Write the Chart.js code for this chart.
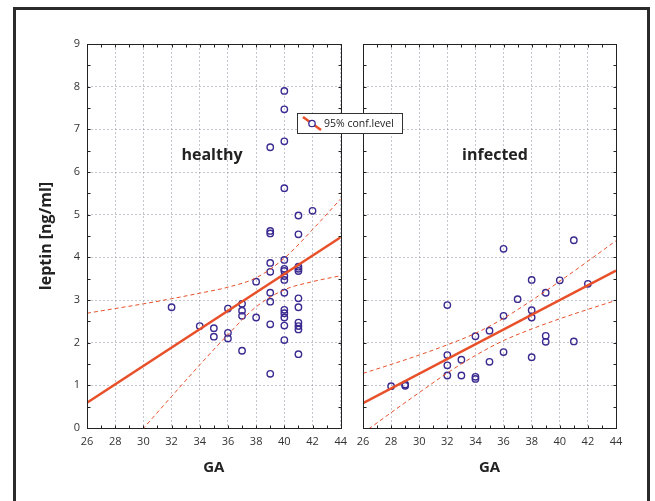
<!DOCTYPE html>
<html>
<head>
<meta charset="utf-8">
<script src="https://cdn.jsdelivr.net/npm/chart.js@4.4.0/dist/chart.umd.min.js"></script>
<style>
    body { margin: 0; background: #fff; }
    #page { position: relative; width: 655px; height: 501px; overflow: hidden; font-family: "Open Sans", sans-serif; }
    #frame { position: absolute; left: 13px; top: 7px; width: 631px; height: 510px; border: 3px solid #2b2b2b; }
    .box { position: absolute; top: 0; height: 501px; }
    #left-box { left: 0; width: 354px; }
    #right-box { left: 345px; width: 310px; }
    .panel-label { position: absolute; font-weight: bold; font-size: 16px; color: #222; transform: translate(-50%, -50%); white-space: nowrap; }
    #legend { position: absolute; left: 297px; top: 113px; width: 104px; height: 19px; border: 1px solid #333; background: #fff; }
    #legend svg { position: absolute; left: 3px; top: 0; }
    #legend span { position: absolute; left: 26px; top: 0; line-height: 19px; font-size: 10.5px; color: #222; white-space: nowrap; }
</style>
</head>
<body>
<div id="page">
    <div id="frame"></div>
    <div class="box" id="left-box"><canvas id="healthy-chart"></canvas></div>
    <div class="box" id="right-box"><canvas id="infected-chart"></canvas></div>
    <div class="panel-label" style="left:212px; top:154px;">healthy</div>
    <div class="panel-label" style="left:495px; top:154px;">infected</div>
    <div id="legend">
        <svg width="22" height="19">
            <line x1="2" y1="3" x2="20" y2="16" stroke="#e8502a" stroke-width="2.5"/>
            <circle cx="11" cy="9.5" r="3.2" fill="#fff" stroke="#3b2a90" stroke-width="1.3"/>
        </svg>
        <span>95% conf.level</span>
    </div>
</div>
<script>
// healthy group
const healthyGA = [32, 34, 35, 35, 36, 36, 36, 37, 37, 37, 37, 38, 38,
    39, 39, 39, 39, 39, 39, 39, 39, 39,
    40, 40, 40, 40, 40, 40, 40, 40, 40, 40, 40, 40, 40, 40, 40,
    41, 41, 41, 41, 41, 41, 41, 41, 41, 41, 41, 42]
const healthyLeptin = [2.83, 2.39, 2.34, 2.14, 2.80, 2.23, 2.10, 2.91, 2.75, 2.63, 1.81, 3.43, 2.59,
    6.58, 4.62, 4.56, 3.87, 3.66, 3.17, 2.96, 2.43, 1.27,
    7.90, 7.47, 6.72, 5.62, 3.94, 3.73, 3.68, 3.56, 3.47, 3.17, 2.77, 2.69, 2.59, 2.40, 2.06,
    4.98, 4.54, 3.78, 3.73, 3.68, 3.04, 2.83, 2.47, 2.39, 2.31, 1.73, 5.09]

// infected group
const infectedGA = [28, 29, 29, 32, 32, 32, 32, 33, 33, 34, 34, 34, 35, 35,
    36, 36, 36, 37, 38, 38, 38, 38, 39, 39, 39, 40, 41, 41, 42]
const infectedLeptin = [0.98, 1.02, 0.99, 2.88, 1.71, 1.47, 1.23, 1.60, 1.23, 2.15, 1.20, 1.15, 2.28, 1.55,
    4.20, 2.63, 1.78, 3.02, 3.47, 2.76, 2.59, 1.66, 3.17, 2.16, 2.02, 3.46, 4.40, 2.03, 3.38]

// regression lines (ends at GA 26 and 44)
const fitGA = [26, 44]
const healthyFit = [0.59, 4.47]
const infectedFit = [0.58, 3.69]

// 95% confidence band, read at every x tick
const bandGA = [26, 28, 30, 32, 34, 36, 38, 40, 42, 44]
const healthyUpper = [2.69, 2.80, 2.91, 3.03, 3.16, 3.30, 3.52, 3.98, 4.65, 5.37]
const healthyLower = [-1.51, -0.76, -0.01, 0.74, 1.48, 2.19, 2.84, 3.24, 3.43, 3.57]
const infectedUpper = [1.28, 1.49, 1.71, 1.95, 2.22, 2.57, 2.99, 3.44, 3.91, 4.39]
const infectedLower = [-0.12, 0.36, 0.83, 1.29, 1.70, 2.05, 2.32, 2.56, 2.78, 2.99]

const xTicks = { min: 26, max: 44, step: 2 }
const yTicks = { min: 0, max: 9, step: 1 }

const pointColor = '#3b2a90'
const lineColor = '#e8502a'
const tickFont = { family: 'Open Sans', size: 11 }
const titleFont = { family: 'Open Sans', size: 15, weight: 'bold' }

function toPoints(xs, ys) {
    return xs.map((x, i) => ({ x: x, y: ys[i] }))
}

// frame round the plot area plus small inward ticks
const panelFrame = {
    id: 'panelFrame',
    afterDraw(chart) {
        const { ctx, chartArea: a, scales: { x, y } } = chart
        const l = Math.round(a.left) + 0.5, r = Math.round(a.right) + 0.5
        const t = Math.round(a.top) + 0.5, b = Math.round(a.bottom) + 0.5
        ctx.save()
        ctx.strokeStyle = '#222'
        ctx.lineWidth = 1
        ctx.beginPath()
        for (let v = xTicks.min; v <= xTicks.max; v += 1) {
            const px = Math.round(x.getPixelForValue(v)) + 0.5
            ctx.moveTo(px, t); ctx.lineTo(px, t + 3)
            ctx.moveTo(px, b); ctx.lineTo(px, b - 3)
        }
        for (let v = yTicks.min; v <= yTicks.max; v += 0.5) {
            const py = Math.round(y.getPixelForValue(v)) + 0.5
            ctx.moveTo(l, py); ctx.lineTo(l + 3, py)
            ctx.moveTo(r, py); ctx.lineTo(r - 3, py)
        }
        ctx.stroke()
        ctx.strokeRect(l, t, r - l, b - t)
        ctx.restore()
    }
}

function makePanel(canvasId, ga, leptin, fit, upper, lower, opts) {
    const band = (data) => ({
        data: toPoints(bandGA, data),
        showLine: true,
        borderColor: lineColor,
        borderWidth: 1,
        borderDash: [4, 3],
        pointRadius: 0,
        cubicInterpolationMode: 'monotone'
    })
    return new Chart(document.getElementById(canvasId).getContext('2d'), {
        type: 'scatter',
        data: {
            datasets: [
                band(upper),
                band(lower),
                {
                    data: toPoints(fitGA, fit),
                    showLine: true,
                    borderColor: lineColor,
                    borderWidth: 2.5,
                    pointRadius: 0
                },
                {
                    data: toPoints(ga, leptin),
                    pointStyle: 'circle',
                    pointRadius: 3.2,
                    pointBorderWidth: 1.4,
                    pointBorderColor: pointColor,
                    pointBackgroundColor: 'rgba(255,255,255,0)'
                }
            ]
        },
        options: {
            responsive: true,
            maintainAspectRatio: false,
            animation: false,
            events: [],
            layout: { padding: { left: 0, top: 44, right: opts.padRight, bottom: 0 } },
            plugins: { legend: { display: false }, tooltip: { enabled: false } },
            scales: {
                x: {
                    type: 'linear',
                    min: xTicks.min,
                    max: xTicks.max,
                    afterFit: (scale) => { scale.height = 73 },
                    ticks: { stepSize: xTicks.step, padding: 7, color: '#333', font: tickFont, maxRotation: 0 },
                    grid: { color: 'rgba(150,150,170,0.55)', drawTicks: false },
                    border: { display: false, dash: [2, 2] },
                    title: { display: true, text: 'GA', color: '#222', font: titleFont, padding: { top: 0, bottom: 24 } }
                },
                y: {
                    type: 'linear',
                    min: yTicks.min,
                    max: yTicks.max,
                    afterFit: (scale) => { scale.width = opts.yWidth },
                    ticks: { stepSize: yTicks.step, padding: 7, color: '#333', font: tickFont, display: opts.yLabels },
                    grid: { color: 'rgba(150,150,170,0.55)', drawTicks: false },
                    border: { display: false, dash: [2, 2] },
                    title: { display: opts.yLabels, text: 'leptin [ng/ml]', color: '#222', font: { family: 'Open Sans', size: 16, weight: 'bold' }, padding: { top: 37, bottom: 0 } }
                }
            }
        },
        plugins: [panelFrame]
    })
}

makePanel('healthy-chart', healthyGA, healthyLeptin, healthyFit, healthyUpper, healthyLower,
    { yWidth: 87, padRight: 8, yLabels: true })
makePanel('infected-chart', infectedGA, infectedLeptin, infectedFit, infectedUpper, infectedLower,
    { yWidth: 18, padRight: 39, yLabels: false })
</script>
</body>
</html>
